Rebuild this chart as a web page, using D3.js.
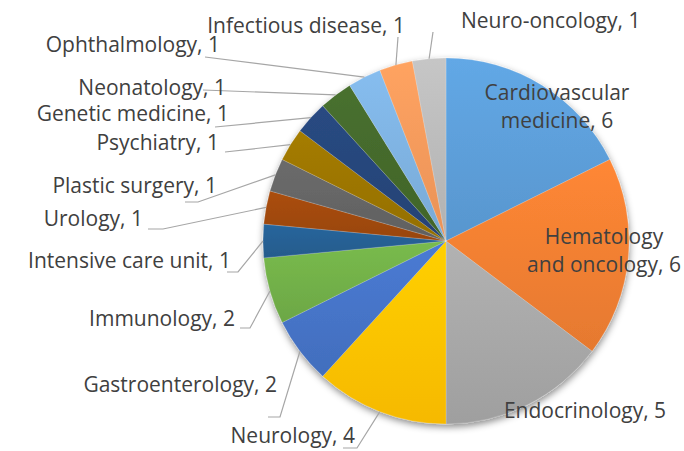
<!DOCTYPE html>
<html>
<head>
<meta charset="utf-8">
<script src="https://cdn.jsdelivr.net/npm/d3@7"></script>
<style>
  body { margin: 0; background: #fff; }
  svg { display: block; }
  text { font-family: "Open Sans", "Noto Sans", sans-serif; font-size: 21px; fill: #404040; font-variant-ligatures: none; }
</style>
</head>
<body>
<svg width="684" height="451"></svg>
<script>
// Data (clockwise from 12 o'clock)
const categories = [
  'Cardiovascular medicine', 'Hematology and oncology', 'Endocrinology', 'Neurology',
  'Gastroenterology', 'Immunology', 'Intensive care unit', 'Urology', 'Plastic surgery',
  'Psychiatry', 'Genetic medicine', 'Neonatology', 'Ophthalmology', 'Infectious disease',
  'Neuro-oncology'
];
const counts = [6, 6, 5, 4, 2, 2, 1, 1, 1, 1, 1, 1, 1, 1, 1];
const colors = [
  '#5b9bd5', '#ed7d31', '#a5a5a5', '#ffc000', '#4472c4', '#70ad47',
  '#255e91', '#9e480e', '#636363', '#997300', '#264478', '#43682b',
  '#7cafdd', '#f1975a', '#b7b7b7'
];

// Label layout: text lines, anchor point, anchor side, leader start/elbow (null = inside label)
const labelLayout = [
  { lines: ['Cardiovascular', 'medicine, 6'], x: 557, y: 100, anchor: 'middle', leader: null },
  { lines: ['Hematology', 'and oncology, 6'], x: 604, y: 244, anchor: 'middle', leader: null },
  { lines: ['Endocrinology, 5'], x: 585, y: 418, anchor: 'middle', leader: null },
  { lines: ['Neurology, 4'], x: 355, y: 443, anchor: 'end', leader: [[343, 448], [357, 448]] },
  { lines: ['Gastroenterology, 2'], x: 277, y: 392, anchor: 'end', leader: [[268, 417], [280, 417]] },
  { lines: ['Immunology, 2'], x: 235, y: 326, anchor: 'end', leader: [[240, 328], [250, 328]] },
  { lines: ['Intensive care unit, 1'], x: 231, y: 268, anchor: 'end', leader: [[227, 272], [238, 272]] },
  { lines: ['Urology, 1'], x: 143, y: 226, anchor: 'end', leader: [[148, 229], [163, 229]] },
  { lines: ['Plastic surgery, 1'], x: 217, y: 193, anchor: 'end', leader: [[185, 202], [198, 202]] },
  { lines: ['Psychiatry, 1'], x: 219, y: 150, anchor: 'end', leader: [[225, 152]] },
  { lines: ['Genetic medicine, 1'], x: 229, y: 121, anchor: 'end', leader: [[215, 127]] },
  { lines: ['Neonatology, 1'], x: 226, y: 95, anchor: 'end', leader: [[203, 90]] },
  { lines: ['Ophthalmology, 1'], x: 220, y: 52, anchor: 'end', leader: [[205, 57]] },
  { lines: ['Infectious disease, 1'], x: 405, y: 33, anchor: 'end', leader: [[398, 37]] },
  { lines: ['Neuro-oncology, 1'], x: 461, y: 28, anchor: 'start', leader: [[433, 32]] }
];

const svg = d3.select('svg');
const cx = 446;
const cy = 241;
const radius = 183;

const data = categories.map((name, i) => ({ name, value: counts[i], color: colors[i], layout: labelLayout[i] }));

const defs = svg.append('defs');

// Soft drop shadow under the pie
defs
  .append('filter')
  .attr('id', 'shadow')
  .attr('x', '-10%')
  .attr('y', '-10%')
  .attr('width', '125%')
  .attr('height', '125%')
  .append('feDropShadow')
  .attr('dx', 0.5)
  .attr('dy', 3)
  .attr('stdDeviation', 3.5)
  .attr('flood-color', '#000')
  .attr('flood-opacity', 0.45);

// Vertical gradient per slice, lighter at the top
data.forEach((d, i) => {
  const grad = defs
    .append('linearGradient')
    .attr('id', `grad${i}`)
    .attr('x1', 0)
    .attr('y1', 0)
    .attr('x2', 0)
    .attr('y2', 1);
  grad.append('stop').attr('offset', '0%').attr('stop-color', d3.color(d.color).brighter(0.22));
  grad.append('stop').attr('offset', '100%').attr('stop-color', d3.color(d.color).darker(0.1));
});

const pie = d3.pie().sort(null).value(d => d.value);
const arc = d3.arc().innerRadius(0).outerRadius(radius);
const arcs = pie(data);

const g = svg.append('g').attr('transform', `translate(${cx},${cy})`);

// Slices
g
  .append('g')
  .attr('filter', 'url(#shadow)')
  .selectAll('path')
  .data(arcs)
  .enter()
  .append('path')
  .attr('d', arc)
  .attr('fill', (d, i) => `url(#grad${i})`)
  .attr('stroke', 'rgba(255,255,255,0.35)')
  .attr('stroke-width', 0.5);

// Leader lines: from label to the mid point of the slice edge
const line = d3.line();
svg
  .append('g')
  .selectAll('path')
  .data(arcs.filter(d => d.data.layout.leader))
  .enter()
  .append('path')
  .attr('d', d => {
    const mid = (d.startAngle + d.endAngle) / 2;
    const edge = [cx + radius * Math.sin(mid), cy - radius * Math.cos(mid)];
    return line(d.data.layout.leader.concat([edge]));
  })
  .attr('fill', 'none')
  .attr('stroke', '#a6a6a6')
  .attr('stroke-width', 1.2);

// Labels
svg
  .append('g')
  .selectAll('text')
  .data(data)
  .enter()
  .append('text')
  .attr('x', d => d.layout.x)
  .attr('y', d => d.layout.y)
  .attr('text-anchor', d => d.layout.anchor)
  .each(function (d) {
    d.layout.lines.forEach((t, k) => {
      d3.select(this)
        .append('tspan')
        .attr('x', d.layout.x)
        .attr('dy', k === 0 ? 0 : 28)
        .text(t);
    });
  });
</script>
</body>
</html>
